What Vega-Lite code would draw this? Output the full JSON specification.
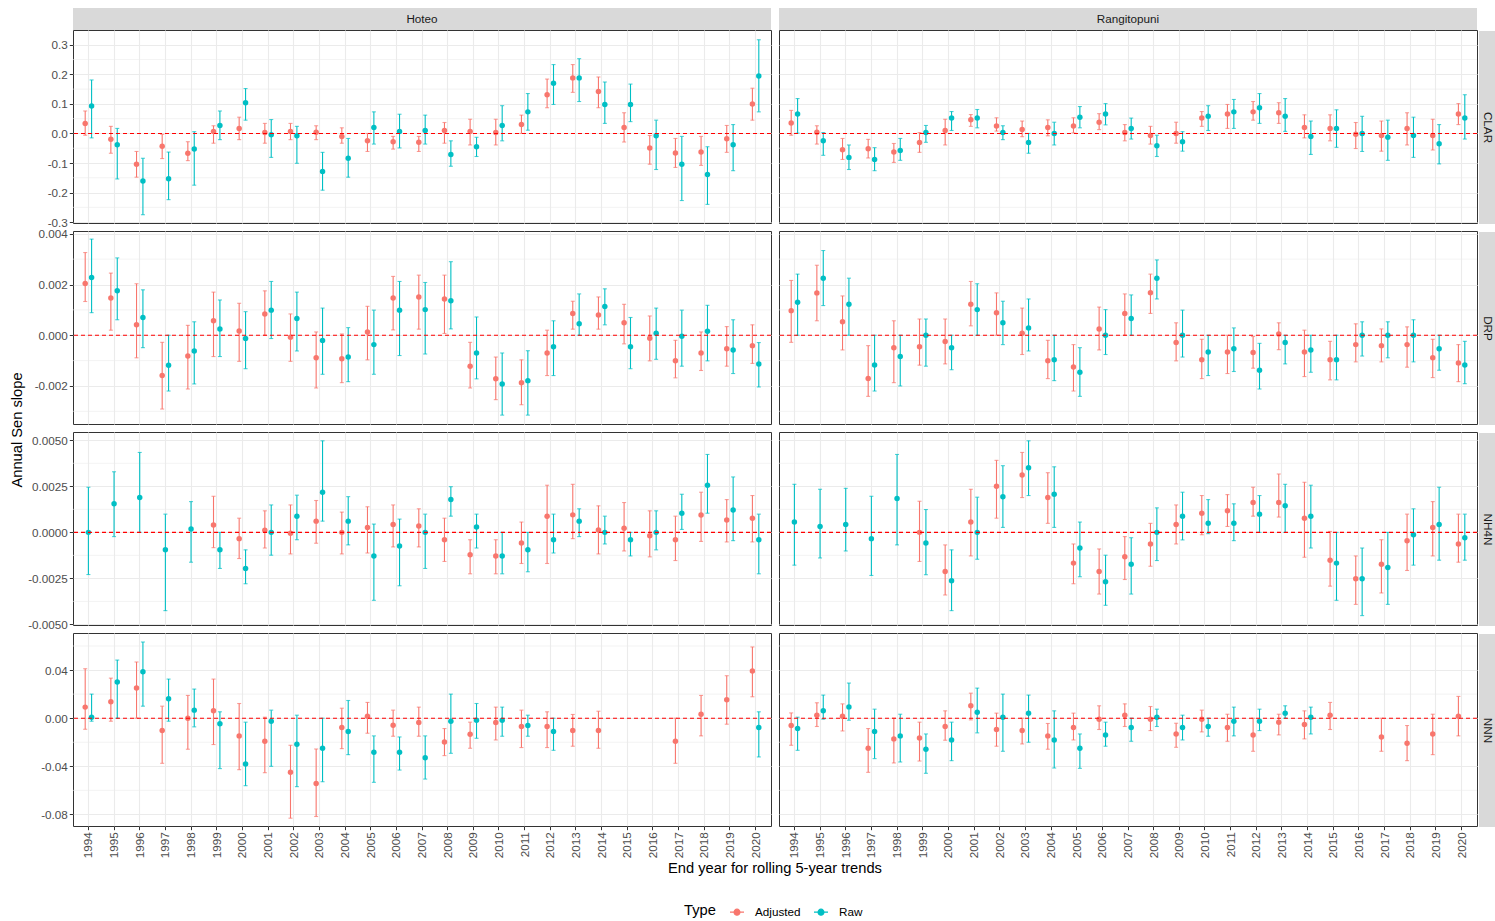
{
  "$schema": "https://vega.github.io/schema/vega-lite/v6.json",
  "autosize": {"type": "pad"},
  "padding": {"left": 9, "top": 8, "right": 0, "bottom": 0},
  "background": "#FFFFFF",
  "datasets": {
    "Hoteo_CLAR": [
      {"year":"1994","type":"Adjusted","slope":0.034,"lower":-0.006,"upper":0.076},{"year":"1994","type":"Raw","slope":0.093,"lower":-0.015,"upper":0.181},
      {"year":"1995","type":"Adjusted","slope":-0.020,"lower":-0.067,"upper":0.024},{"year":"1995","type":"Raw","slope":-0.038,"lower":-0.154,"upper":0.017},
      {"year":"1996","type":"Adjusted","slope":-0.104,"lower":-0.148,"upper":-0.061},{"year":"1996","type":"Raw","slope":-0.161,"lower":-0.275,"upper":-0.084},
      {"year":"1997","type":"Adjusted","slope":-0.043,"lower":-0.085,"upper":-0.003},{"year":"1997","type":"Raw","slope":-0.153,"lower":-0.224,"upper":-0.063},
      {"year":"1998","type":"Adjusted","slope":-0.067,"lower":-0.092,"upper":-0.028},{"year":"1998","type":"Raw","slope":-0.053,"lower":-0.175,"upper":0.006},
      {"year":"1999","type":"Adjusted","slope":0.007,"lower":-0.033,"upper":0.026},{"year":"1999","type":"Raw","slope":0.027,"lower":-0.021,"upper":0.076},
      {"year":"2000","type":"Adjusted","slope":0.017,"lower":-0.021,"upper":0.055},{"year":"2000","type":"Raw","slope":0.104,"lower":0.045,"upper":0.152},
      {"year":"2001","type":"Adjusted","slope":0.003,"lower":-0.033,"upper":0.034},{"year":"2001","type":"Raw","slope":-0.004,"lower":-0.081,"upper":0.047},
      {"year":"2002","type":"Adjusted","slope":0.007,"lower":-0.021,"upper":0.034},{"year":"2002","type":"Raw","slope":-0.008,"lower":-0.101,"upper":0.024},
      {"year":"2003","type":"Adjusted","slope":0.004,"lower":-0.021,"upper":0.026},{"year":"2003","type":"Raw","slope":-0.129,"lower":-0.192,"upper":-0.064},
      {"year":"2004","type":"Adjusted","slope":-0.010,"lower":-0.033,"upper":0.019},{"year":"2004","type":"Raw","slope":-0.084,"lower":-0.148,"upper":-0.017},
      {"year":"2005","type":"Adjusted","slope":-0.025,"lower":-0.061,"upper":0.000},{"year":"2005","type":"Raw","slope":0.020,"lower":-0.036,"upper":0.073},
      {"year":"2006","type":"Adjusted","slope":-0.028,"lower":-0.053,"upper":-0.010},{"year":"2006","type":"Raw","slope":0.007,"lower":-0.049,"upper":0.065},
      {"year":"2007","type":"Adjusted","slope":-0.030,"lower":-0.061,"upper":-0.010},{"year":"2007","type":"Raw","slope":0.010,"lower":-0.036,"upper":0.062},
      {"year":"2008","type":"Adjusted","slope":0.010,"lower":-0.033,"upper":0.037},{"year":"2008","type":"Raw","slope":-0.071,"lower":-0.111,"upper":-0.025},
      {"year":"2009","type":"Adjusted","slope":0.007,"lower":-0.039,"upper":0.048},{"year":"2009","type":"Raw","slope":-0.045,"lower":-0.078,"upper":-0.013},
      {"year":"2010","type":"Adjusted","slope":0.003,"lower":-0.039,"upper":0.048},{"year":"2010","type":"Raw","slope":0.027,"lower":-0.025,"upper":0.094},
      {"year":"2011","type":"Adjusted","slope":0.030,"lower":0.000,"upper":0.062},{"year":"2011","type":"Raw","slope":0.073,"lower":0.011,"upper":0.135},
      {"year":"2012","type":"Adjusted","slope":0.131,"lower":0.087,"upper":0.184},{"year":"2012","type":"Raw","slope":0.170,"lower":0.098,"upper":0.233},
      {"year":"2013","type":"Adjusted","slope":0.188,"lower":0.139,"upper":0.233},{"year":"2013","type":"Raw","slope":0.188,"lower":0.108,"upper":0.253},
      {"year":"2014","type":"Adjusted","slope":0.142,"lower":0.087,"upper":0.191},{"year":"2014","type":"Raw","slope":0.098,"lower":0.034,"upper":0.174},
      {"year":"2015","type":"Adjusted","slope":0.020,"lower":-0.029,"upper":0.070},{"year":"2015","type":"Raw","slope":0.098,"lower":0.040,"upper":0.167},
      {"year":"2016","type":"Adjusted","slope":-0.049,"lower":-0.104,"upper":-0.007},{"year":"2016","type":"Raw","slope":-0.008,"lower":-0.122,"upper":0.045},
      {"year":"2017","type":"Adjusted","slope":-0.066,"lower":-0.115,"upper":-0.017},{"year":"2017","type":"Raw","slope":-0.104,"lower":-0.227,"upper":-0.010},
      {"year":"2018","type":"Adjusted","slope":-0.063,"lower":-0.108,"upper":-0.010},{"year":"2018","type":"Raw","slope":-0.139,"lower":-0.240,"upper":-0.045},
      {"year":"2019","type":"Adjusted","slope":-0.018,"lower":-0.064,"upper":0.027},{"year":"2019","type":"Raw","slope":-0.038,"lower":-0.126,"upper":0.030},
      {"year":"2020","type":"Adjusted","slope":0.100,"lower":0.045,"upper":0.153},{"year":"2020","type":"Raw","slope":0.194,"lower":0.073,"upper":0.317}
    ],
    "Rangitopuni_CLAR": [
      {"year":"1994","type":"Adjusted","slope":0.035,"lower":-0.006,"upper":0.078},{"year":"1994","type":"Raw","slope":0.066,"lower":0.001,"upper":0.118},
      {"year":"1995","type":"Adjusted","slope":0.004,"lower":-0.036,"upper":0.026},{"year":"1995","type":"Raw","slope":-0.025,"lower":-0.074,"upper":0.003},
      {"year":"1996","type":"Adjusted","slope":-0.055,"lower":-0.088,"upper":-0.017},{"year":"1996","type":"Raw","slope":-0.081,"lower":-0.122,"upper":-0.039},
      {"year":"1997","type":"Adjusted","slope":-0.052,"lower":-0.083,"upper":-0.020},{"year":"1997","type":"Raw","slope":-0.088,"lower":-0.126,"upper":-0.048},
      {"year":"1998","type":"Adjusted","slope":-0.063,"lower":-0.098,"upper":-0.034},{"year":"1998","type":"Raw","slope":-0.058,"lower":-0.091,"upper":-0.017},
      {"year":"1999","type":"Adjusted","slope":-0.031,"lower":-0.064,"upper":0.003},{"year":"1999","type":"Raw","slope":0.003,"lower":-0.030,"upper":0.027},
      {"year":"2000","type":"Adjusted","slope":0.010,"lower":-0.039,"upper":0.048},{"year":"2000","type":"Raw","slope":0.052,"lower":0.010,"upper":0.074},
      {"year":"2001","type":"Adjusted","slope":0.046,"lower":0.024,"upper":0.064},{"year":"2001","type":"Raw","slope":0.052,"lower":0.019,"upper":0.081},
      {"year":"2002","type":"Adjusted","slope":0.025,"lower":0.008,"upper":0.053},{"year":"2002","type":"Raw","slope":0.003,"lower":-0.021,"upper":0.026},
      {"year":"2003","type":"Adjusted","slope":0.013,"lower":-0.011,"upper":0.042},{"year":"2003","type":"Raw","slope":-0.031,"lower":-0.067,"upper":0.000},
      {"year":"2004","type":"Adjusted","slope":0.020,"lower":-0.008,"upper":0.046},{"year":"2004","type":"Raw","slope":0.000,"lower":-0.039,"upper":0.038},
      {"year":"2005","type":"Adjusted","slope":0.025,"lower":0.002,"upper":0.053},{"year":"2005","type":"Raw","slope":0.055,"lower":0.019,"upper":0.091},
      {"year":"2006","type":"Adjusted","slope":0.038,"lower":0.013,"upper":0.067},{"year":"2006","type":"Raw","slope":0.066,"lower":0.029,"upper":0.101},
      {"year":"2007","type":"Adjusted","slope":0.003,"lower":-0.025,"upper":0.030},{"year":"2007","type":"Raw","slope":0.017,"lower":-0.019,"upper":0.052},
      {"year":"2008","type":"Adjusted","slope":-0.007,"lower":-0.036,"upper":0.024},{"year":"2008","type":"Raw","slope":-0.042,"lower":-0.078,"upper":-0.006},
      {"year":"2009","type":"Adjusted","slope":0.000,"lower":-0.033,"upper":0.038},{"year":"2009","type":"Raw","slope":-0.028,"lower":-0.060,"upper":0.006},
      {"year":"2010","type":"Adjusted","slope":0.052,"lower":0.024,"upper":0.074},{"year":"2010","type":"Raw","slope":0.058,"lower":0.010,"upper":0.094},
      {"year":"2011","type":"Adjusted","slope":0.066,"lower":0.017,"upper":0.098},{"year":"2011","type":"Raw","slope":0.073,"lower":0.017,"upper":0.115},
      {"year":"2012","type":"Adjusted","slope":0.073,"lower":0.045,"upper":0.108},{"year":"2012","type":"Raw","slope":0.087,"lower":0.034,"upper":0.135},
      {"year":"2013","type":"Adjusted","slope":0.070,"lower":0.034,"upper":0.104},{"year":"2013","type":"Raw","slope":0.058,"lower":0.007,"upper":0.118},
      {"year":"2014","type":"Adjusted","slope":0.020,"lower":-0.015,"upper":0.063},{"year":"2014","type":"Raw","slope":-0.010,"lower":-0.071,"upper":0.042},
      {"year":"2015","type":"Adjusted","slope":0.017,"lower":-0.025,"upper":0.063},{"year":"2015","type":"Raw","slope":0.017,"lower":-0.047,"upper":0.080},
      {"year":"2016","type":"Adjusted","slope":-0.003,"lower":-0.051,"upper":0.037},{"year":"2016","type":"Raw","slope":0.000,"lower":-0.061,"upper":0.058},
      {"year":"2017","type":"Adjusted","slope":-0.007,"lower":-0.060,"upper":0.042},{"year":"2017","type":"Raw","slope":-0.013,"lower":-0.091,"upper":0.045},
      {"year":"2018","type":"Adjusted","slope":0.017,"lower":-0.039,"upper":0.070},{"year":"2018","type":"Raw","slope":-0.007,"lower":-0.081,"upper":0.055},
      {"year":"2019","type":"Adjusted","slope":-0.007,"lower":-0.056,"upper":0.048},{"year":"2019","type":"Raw","slope":-0.035,"lower":-0.103,"upper":0.030},
      {"year":"2020","type":"Adjusted","slope":0.066,"lower":0.030,"upper":0.101},{"year":"2020","type":"Raw","slope":0.052,"lower":-0.019,"upper":0.131}
    ],
    "Hoteo_DRP": [
      {"year":"1994","type":"Adjusted","slope":0.00204,"lower":0.00133,"upper":0.00326},{"year":"1994","type":"Raw","slope":0.00228,"lower":0.00089,"upper":0.00379},
      {"year":"1995","type":"Adjusted","slope":0.00147,"lower":0.00020,"upper":0.00245},{"year":"1995","type":"Raw","slope":0.00175,"lower":0.00061,"upper":0.00305},
      {"year":"1996","type":"Adjusted","slope":0.00041,"lower":-0.00089,"upper":0.00203},{"year":"1996","type":"Raw","slope":0.00070,"lower":-0.00049,"upper":0.00179},
      {"year":"1997","type":"Adjusted","slope":-0.00159,"lower":-0.00291,"upper":-0.00028},{"year":"1997","type":"Raw","slope":-0.00118,"lower":-0.00220,"upper":0.00000},
      {"year":"1998","type":"Adjusted","slope":-0.00082,"lower":-0.00212,"upper":0.00039},{"year":"1998","type":"Raw","slope":-0.00062,"lower":-0.00192,"upper":0.00053},
      {"year":"1999","type":"Adjusted","slope":0.00057,"lower":-0.00084,"upper":0.00170},{"year":"1999","type":"Raw","slope":0.00025,"lower":-0.00084,"upper":0.00139},
      {"year":"2000","type":"Adjusted","slope":0.00017,"lower":-0.00103,"upper":0.00126},{"year":"2000","type":"Raw","slope":-0.00013,"lower":-0.00132,"upper":0.00093},
      {"year":"2001","type":"Adjusted","slope":0.00084,"lower":0.00000,"upper":0.00175},{"year":"2001","type":"Raw","slope":0.00099,"lower":-0.00013,"upper":0.00212},
      {"year":"2002","type":"Adjusted","slope":-0.00008,"lower":-0.00103,"upper":0.00084},{"year":"2002","type":"Raw","slope":0.00066,"lower":-0.00062,"upper":0.00170},
      {"year":"2003","type":"Adjusted","slope":-0.00089,"lower":-0.00208,"upper":0.00013},{"year":"2003","type":"Raw","slope":-0.00021,"lower":-0.00154,"upper":0.00107},
      {"year":"2004","type":"Adjusted","slope":-0.00093,"lower":-0.00187,"upper":0.00005},{"year":"2004","type":"Raw","slope":-0.00086,"lower":-0.00183,"upper":0.00030},
      {"year":"2005","type":"Adjusted","slope":0.00013,"lower":-0.00097,"upper":0.00114},{"year":"2005","type":"Raw","slope":-0.00037,"lower":-0.00154,"upper":0.00099},
      {"year":"2006","type":"Adjusted","slope":0.00147,"lower":0.00021,"upper":0.00232},{"year":"2006","type":"Raw","slope":0.00099,"lower":-0.00080,"upper":0.00212},
      {"year":"2007","type":"Adjusted","slope":0.00151,"lower":0.00024,"upper":0.00237},{"year":"2007","type":"Raw","slope":0.00101,"lower":-0.00074,"upper":0.00208},
      {"year":"2008","type":"Adjusted","slope":0.00143,"lower":0.00007,"upper":0.00237},{"year":"2008","type":"Raw","slope":0.00136,"lower":0.00025,"upper":0.00290},
      {"year":"2009","type":"Adjusted","slope":-0.00122,"lower":-0.00208,"upper":-0.00028},{"year":"2009","type":"Raw","slope":-0.00070,"lower":-0.00172,"upper":0.00072},
      {"year":"2010","type":"Adjusted","slope":-0.00172,"lower":-0.00254,"upper":-0.00086},{"year":"2010","type":"Raw","slope":-0.00192,"lower":-0.00315,"upper":-0.00070},
      {"year":"2011","type":"Adjusted","slope":-0.00187,"lower":-0.00274,"upper":-0.00097},{"year":"2011","type":"Raw","slope":-0.00179,"lower":-0.00315,"upper":-0.00061},
      {"year":"2012","type":"Adjusted","slope":-0.00070,"lower":-0.00159,"upper":0.00020},{"year":"2012","type":"Raw","slope":-0.00045,"lower":-0.00159,"upper":0.00057},
      {"year":"2013","type":"Adjusted","slope":0.00086,"lower":0.00024,"upper":0.00134},{"year":"2013","type":"Raw","slope":0.00045,"lower":0.00000,"upper":0.00163},
      {"year":"2014","type":"Adjusted","slope":0.00080,"lower":0.00024,"upper":0.00151},{"year":"2014","type":"Raw","slope":0.00113,"lower":0.00041,"upper":0.00183},
      {"year":"2015","type":"Adjusted","slope":0.00049,"lower":-0.00034,"upper":0.00122},{"year":"2015","type":"Raw","slope":-0.00045,"lower":-0.00132,"upper":0.00070},
      {"year":"2016","type":"Adjusted","slope":-0.00012,"lower":-0.00101,"upper":0.00076},{"year":"2016","type":"Raw","slope":0.00008,"lower":-0.00095,"upper":0.00107},
      {"year":"2017","type":"Adjusted","slope":-0.00101,"lower":-0.00168,"upper":-0.00020},{"year":"2017","type":"Raw","slope":-0.00004,"lower":-0.00122,"upper":0.00099},
      {"year":"2018","type":"Adjusted","slope":-0.00070,"lower":-0.00139,"upper":0.00013},{"year":"2018","type":"Raw","slope":0.00016,"lower":-0.00101,"upper":0.00118},
      {"year":"2019","type":"Adjusted","slope":-0.00053,"lower":-0.00122,"upper":0.00034},{"year":"2019","type":"Raw","slope":-0.00058,"lower":-0.00151,"upper":0.00061},
      {"year":"2020","type":"Adjusted","slope":-0.00041,"lower":-0.00111,"upper":0.00041},{"year":"2020","type":"Raw","slope":-0.00113,"lower":-0.00204,"upper":-0.00029}
    ],
    "Rangitopuni_DRP": [
      {"year":"1994","type":"Adjusted","slope":0.00097,"lower":-0.00028,"upper":0.00216},{"year":"1994","type":"Raw","slope":0.00130,"lower":0.00000,"upper":0.00241},
      {"year":"1995","type":"Adjusted","slope":0.00167,"lower":0.00057,"upper":0.00276},{"year":"1995","type":"Raw","slope":0.00225,"lower":0.00117,"upper":0.00334},
      {"year":"1996","type":"Adjusted","slope":0.00053,"lower":-0.00058,"upper":0.00155},{"year":"1996","type":"Raw","slope":0.00122,"lower":0.00000,"upper":0.00225},
      {"year":"1997","type":"Adjusted","slope":-0.00171,"lower":-0.00241,"upper":-0.00041},{"year":"1997","type":"Raw","slope":-0.00117,"lower":-0.00220,"upper":0.00000},
      {"year":"1998","type":"Adjusted","slope":-0.00049,"lower":-0.00187,"upper":0.00057},{"year":"1998","type":"Raw","slope":-0.00084,"lower":-0.00200,"upper":0.00000},
      {"year":"1999","type":"Adjusted","slope":-0.00045,"lower":-0.00118,"upper":0.00064},{"year":"1999","type":"Raw","slope":0.00000,"lower":-0.00122,"upper":0.00064},
      {"year":"2000","type":"Adjusted","slope":-0.00025,"lower":-0.00113,"upper":0.00064},{"year":"2000","type":"Raw","slope":-0.00049,"lower":-0.00136,"upper":0.00000},
      {"year":"2001","type":"Adjusted","slope":0.00122,"lower":0.00037,"upper":0.00212},{"year":"2001","type":"Raw","slope":0.00101,"lower":0.00000,"upper":0.00203},
      {"year":"2002","type":"Adjusted","slope":0.00089,"lower":0.00000,"upper":0.00167},{"year":"2002","type":"Raw","slope":0.00049,"lower":-0.00037,"upper":0.00134},
      {"year":"2003","type":"Adjusted","slope":0.00008,"lower":-0.00076,"upper":0.00107},{"year":"2003","type":"Raw","slope":0.00029,"lower":-0.00062,"upper":0.00143},
      {"year":"2004","type":"Adjusted","slope":-0.00101,"lower":-0.00171,"upper":-0.00020},{"year":"2004","type":"Raw","slope":-0.00097,"lower":-0.00179,"upper":0.00000},
      {"year":"2005","type":"Adjusted","slope":-0.00125,"lower":-0.00220,"upper":-0.00037},{"year":"2005","type":"Raw","slope":-0.00146,"lower":-0.00241,"upper":-0.00049},
      {"year":"2006","type":"Adjusted","slope":0.00025,"lower":-0.00058,"upper":0.00111},{"year":"2006","type":"Raw","slope":0.00000,"lower":-0.00076,"upper":0.00101},
      {"year":"2007","type":"Adjusted","slope":0.00086,"lower":0.00000,"upper":0.00163},{"year":"2007","type":"Raw","slope":0.00066,"lower":0.00000,"upper":0.00159},
      {"year":"2008","type":"Adjusted","slope":0.00168,"lower":0.00086,"upper":0.00241},{"year":"2008","type":"Raw","slope":0.00225,"lower":0.00143,"upper":0.00297},
      {"year":"2009","type":"Adjusted","slope":-0.00029,"lower":-0.00101,"upper":0.00049},{"year":"2009","type":"Raw","slope":0.00000,"lower":-0.00086,"upper":0.00099},
      {"year":"2010","type":"Adjusted","slope":-0.00097,"lower":-0.00171,"upper":-0.00016},{"year":"2010","type":"Raw","slope":-0.00066,"lower":-0.00159,"upper":0.00000},
      {"year":"2011","type":"Adjusted","slope":-0.00066,"lower":-0.00151,"upper":0.00000},{"year":"2011","type":"Raw","slope":-0.00053,"lower":-0.00143,"upper":0.00029},
      {"year":"2012","type":"Adjusted","slope":-0.00068,"lower":-0.00130,"upper":-0.00005},{"year":"2012","type":"Raw","slope":-0.00138,"lower":-0.00212,"upper":-0.00032},
      {"year":"2013","type":"Adjusted","slope":0.00005,"lower":-0.00057,"upper":0.00049},{"year":"2013","type":"Raw","slope":-0.00029,"lower":-0.00113,"upper":0.00000},
      {"year":"2014","type":"Adjusted","slope":-0.00066,"lower":-0.00163,"upper":0.00020},{"year":"2014","type":"Raw","slope":-0.00058,"lower":-0.00146,"upper":0.00000},
      {"year":"2015","type":"Adjusted","slope":-0.00097,"lower":-0.00176,"upper":-0.00024},{"year":"2015","type":"Raw","slope":-0.00097,"lower":-0.00176,"upper":0.00000},
      {"year":"2016","type":"Adjusted","slope":-0.00037,"lower":-0.00105,"upper":0.00045},{"year":"2016","type":"Raw","slope":0.00000,"lower":-0.00082,"upper":0.00053},
      {"year":"2017","type":"Adjusted","slope":-0.00041,"lower":-0.00105,"upper":0.00025},{"year":"2017","type":"Raw","slope":0.00000,"lower":-0.00089,"upper":0.00053},
      {"year":"2018","type":"Adjusted","slope":-0.00037,"lower":-0.00126,"upper":0.00033},{"year":"2018","type":"Raw","slope":0.00000,"lower":-0.00105,"upper":0.00061},
      {"year":"2019","type":"Adjusted","slope":-0.00089,"lower":-0.00167,"upper":-0.00016},{"year":"2019","type":"Raw","slope":-0.00053,"lower":-0.00138,"upper":0.00000},
      {"year":"2020","type":"Adjusted","slope":-0.00109,"lower":-0.00183,"upper":-0.00037},{"year":"2020","type":"Raw","slope":-0.00117,"lower":-0.00191,"upper":-0.00024}
    ],
    "Hoteo_NH4N": [
      {"year":"1994","type":"Raw","slope":0.00000,"lower":-0.00229,"upper":0.00245},
      {"year":"1995","type":"Raw","slope":0.00155,"lower":-0.00023,"upper":0.00329},
      {"year":"1996","type":"Raw","slope":0.00189,"lower":0.00000,"upper":0.00434},
      {"year":"1997","type":"Raw","slope":-0.00095,"lower":-0.00425,"upper":0.00099},
      {"year":"1998","type":"Raw","slope":0.00018,"lower":-0.00162,"upper":0.00167},
      {"year":"1999","type":"Adjusted","slope":0.00040,"lower":-0.00083,"upper":0.00196},{"year":"1999","type":"Raw","slope":-0.00094,"lower":-0.00196,"upper":0.00000},
      {"year":"2000","type":"Adjusted","slope":-0.00034,"lower":-0.00142,"upper":0.00077},{"year":"2000","type":"Raw","slope":-0.00196,"lower":-0.00279,"upper":-0.00095},
      {"year":"2001","type":"Adjusted","slope":0.00011,"lower":-0.00085,"upper":0.00117},{"year":"2001","type":"Raw","slope":0.00000,"lower":-0.00124,"upper":0.00149},
      {"year":"2002","type":"Adjusted","slope":-0.00005,"lower":-0.00117,"upper":0.00149},{"year":"2002","type":"Raw","slope":0.00088,"lower":-0.00040,"upper":0.00202},
      {"year":"2003","type":"Adjusted","slope":0.00061,"lower":-0.00059,"upper":0.00173},{"year":"2003","type":"Raw","slope":0.00218,"lower":0.00061,"upper":0.00497},
      {"year":"2004","type":"Adjusted","slope":0.00000,"lower":-0.00117,"upper":0.00110},{"year":"2004","type":"Raw","slope":0.00061,"lower":-0.00068,"upper":0.00194},
      {"year":"2005","type":"Adjusted","slope":0.00027,"lower":-0.00112,"upper":0.00139},{"year":"2005","type":"Raw","slope":-0.00128,"lower":-0.00369,"upper":0.00045},
      {"year":"2006","type":"Adjusted","slope":0.00043,"lower":-0.00079,"upper":0.00149},{"year":"2006","type":"Raw","slope":-0.00074,"lower":-0.00290,"upper":0.00072},
      {"year":"2007","type":"Adjusted","slope":0.00034,"lower":-0.00079,"upper":0.00128},{"year":"2007","type":"Raw","slope":0.00000,"lower":-0.00196,"upper":0.00099},
      {"year":"2008","type":"Adjusted","slope":-0.00040,"lower":-0.00158,"upper":0.00077},{"year":"2008","type":"Raw","slope":0.00178,"lower":0.00088,"upper":0.00248},
      {"year":"2009","type":"Adjusted","slope":-0.00122,"lower":-0.00225,"upper":-0.00040},{"year":"2009","type":"Raw","slope":0.00029,"lower":-0.00085,"upper":0.00099},
      {"year":"2010","type":"Adjusted","slope":-0.00128,"lower":-0.00225,"upper":-0.00040},{"year":"2010","type":"Raw","slope":-0.00128,"lower":-0.00225,"upper":0.00000},
      {"year":"2011","type":"Adjusted","slope":-0.00058,"lower":-0.00169,"upper":0.00056},{"year":"2011","type":"Raw","slope":-0.00095,"lower":-0.00214,"upper":0.00000},
      {"year":"2012","type":"Adjusted","slope":0.00088,"lower":-0.00169,"upper":0.00256},{"year":"2012","type":"Raw","slope":-0.00040,"lower":-0.00112,"upper":0.00099},
      {"year":"2013","type":"Adjusted","slope":0.00095,"lower":-0.00034,"upper":0.00261},{"year":"2013","type":"Raw","slope":0.00061,"lower":-0.00023,"upper":0.00128},
      {"year":"2014","type":"Adjusted","slope":0.00013,"lower":-0.00117,"upper":0.00144},{"year":"2014","type":"Raw","slope":0.00000,"lower":-0.00063,"upper":0.00088},
      {"year":"2015","type":"Adjusted","slope":0.00022,"lower":-0.00101,"upper":0.00162},{"year":"2015","type":"Raw","slope":-0.00040,"lower":-0.00128,"upper":0.00000},
      {"year":"2016","type":"Adjusted","slope":-0.00018,"lower":-0.00133,"upper":0.00117},{"year":"2016","type":"Raw","slope":0.00000,"lower":-0.00095,"upper":0.00117},
      {"year":"2017","type":"Adjusted","slope":-0.00040,"lower":-0.00153,"upper":0.00088},{"year":"2017","type":"Raw","slope":0.00104,"lower":0.00016,"upper":0.00207},
      {"year":"2018","type":"Adjusted","slope":0.00094,"lower":-0.00049,"upper":0.00218},{"year":"2018","type":"Raw","slope":0.00256,"lower":0.00104,"upper":0.00423},
      {"year":"2019","type":"Adjusted","slope":0.00067,"lower":-0.00052,"upper":0.00178},{"year":"2019","type":"Raw","slope":0.00122,"lower":-0.00045,"upper":0.00301},
      {"year":"2020","type":"Adjusted","slope":0.00077,"lower":-0.00052,"upper":0.00200},{"year":"2020","type":"Raw","slope":-0.00040,"lower":-0.00225,"upper":0.00099}
    ],
    "Rangitopuni_NH4N": [
      {"year":"1994","type":"Raw","slope":0.00056,"lower":-0.00178,"upper":0.00261},
      {"year":"1995","type":"Raw","slope":0.00032,"lower":-0.00139,"upper":0.00234},
      {"year":"1996","type":"Raw","slope":0.00043,"lower":-0.00101,"upper":0.00239},
      {"year":"1997","type":"Raw","slope":-0.00034,"lower":-0.00234,"upper":0.00196},
      {"year":"1998","type":"Raw","slope":0.00184,"lower":-0.00068,"upper":0.00423},
      {"year":"1999","type":"Adjusted","slope":0.00000,"lower":-0.00158,"upper":0.00169},{"year":"1999","type":"Raw","slope":-0.00058,"lower":-0.00230,"upper":0.00124},
      {"year":"2000","type":"Adjusted","slope":-0.00212,"lower":-0.00340,"upper":-0.00068},{"year":"2000","type":"Raw","slope":-0.00263,"lower":-0.00425,"upper":-0.00095},
      {"year":"2001","type":"Adjusted","slope":0.00056,"lower":-0.00128,"upper":0.00234},{"year":"2001","type":"Raw","slope":0.00000,"lower":-0.00146,"upper":0.00191},
      {"year":"2002","type":"Adjusted","slope":0.00250,"lower":0.00077,"upper":0.00391},{"year":"2002","type":"Raw","slope":0.00194,"lower":0.00027,"upper":0.00362},
      {"year":"2003","type":"Adjusted","slope":0.00311,"lower":0.00189,"upper":0.00434},{"year":"2003","type":"Raw","slope":0.00351,"lower":0.00200,"upper":0.00497},
      {"year":"2004","type":"Adjusted","slope":0.00189,"lower":0.00049,"upper":0.00324},{"year":"2004","type":"Raw","slope":0.00207,"lower":0.00027,"upper":0.00356},
      {"year":"2005","type":"Adjusted","slope":-0.00167,"lower":-0.00279,"upper":-0.00063},{"year":"2005","type":"Raw","slope":-0.00085,"lower":-0.00241,"upper":0.00056},
      {"year":"2006","type":"Adjusted","slope":-0.00212,"lower":-0.00335,"upper":-0.00090},{"year":"2006","type":"Raw","slope":-0.00268,"lower":-0.00396,"upper":-0.00124},
      {"year":"2007","type":"Adjusted","slope":-0.00133,"lower":-0.00256,"upper":-0.00023},{"year":"2007","type":"Raw","slope":-0.00173,"lower":-0.00335,"upper":-0.00029},
      {"year":"2008","type":"Adjusted","slope":-0.00063,"lower":-0.00184,"upper":0.00049},{"year":"2008","type":"Raw","slope":0.00000,"lower":-0.00153,"upper":0.00133},
      {"year":"2009","type":"Adjusted","slope":0.00043,"lower":-0.00063,"upper":0.00149},{"year":"2009","type":"Raw","slope":0.00088,"lower":-0.00041,"upper":0.00218},
      {"year":"2010","type":"Adjusted","slope":0.00104,"lower":-0.00013,"upper":0.00200},{"year":"2010","type":"Raw","slope":0.00050,"lower":-0.00007,"upper":0.00178},
      {"year":"2011","type":"Adjusted","slope":0.00117,"lower":0.00032,"upper":0.00205},{"year":"2011","type":"Raw","slope":0.00050,"lower":-0.00045,"upper":0.00155},
      {"year":"2012","type":"Adjusted","slope":0.00162,"lower":0.00088,"upper":0.00245},{"year":"2012","type":"Raw","slope":0.00099,"lower":0.00000,"upper":0.00200},
      {"year":"2013","type":"Adjusted","slope":0.00162,"lower":0.00083,"upper":0.00317},{"year":"2013","type":"Raw","slope":0.00144,"lower":0.00000,"upper":0.00261},
      {"year":"2014","type":"Adjusted","slope":0.00077,"lower":-0.00135,"upper":0.00272},{"year":"2014","type":"Raw","slope":0.00088,"lower":-0.00085,"upper":0.00256},
      {"year":"2015","type":"Adjusted","slope":-0.00151,"lower":-0.00292,"upper":0.00005},{"year":"2015","type":"Raw","slope":-0.00167,"lower":-0.00369,"upper":0.00000},
      {"year":"2016","type":"Adjusted","slope":-0.00252,"lower":-0.00391,"upper":-0.00128},{"year":"2016","type":"Raw","slope":-0.00252,"lower":-0.00452,"upper":-0.00085},
      {"year":"2017","type":"Adjusted","slope":-0.00173,"lower":-0.00329,"upper":-0.00040},{"year":"2017","type":"Raw","slope":-0.00191,"lower":-0.00391,"upper":0.00000},
      {"year":"2018","type":"Adjusted","slope":-0.00045,"lower":-0.00207,"upper":0.00099},{"year":"2018","type":"Raw","slope":-0.00013,"lower":-0.00178,"upper":0.00128},
      {"year":"2019","type":"Adjusted","slope":0.00027,"lower":-0.00128,"upper":0.00167},{"year":"2019","type":"Raw","slope":0.00043,"lower":-0.00151,"upper":0.00245},
      {"year":"2020","type":"Adjusted","slope":-0.00063,"lower":-0.00162,"upper":0.00099},{"year":"2020","type":"Raw","slope":-0.00029,"lower":-0.00151,"upper":0.00099}
    ],
    "Hoteo_NNN": [
      {"year":"1994","type":"Adjusted","slope":0.0092,"lower":-0.0092,"upper":0.0411},{"year":"1994","type":"Raw","slope":0.0008,"lower":-0.0025,"upper":0.0200},
      {"year":"1995","type":"Adjusted","slope":0.0136,"lower":-0.0025,"upper":0.0333},{"year":"1995","type":"Raw","slope":0.0300,"lower":0.0000,"upper":0.0483},
      {"year":"1996","type":"Adjusted","slope":0.0250,"lower":0.0000,"upper":0.0467},{"year":"1996","type":"Raw","slope":0.0386,"lower":0.0100,"upper":0.0633},
      {"year":"1997","type":"Adjusted","slope":-0.0103,"lower":-0.0375,"upper":0.0100},{"year":"1997","type":"Raw","slope":0.0161,"lower":-0.0025,"upper":0.0325},
      {"year":"1998","type":"Adjusted","slope":0.0000,"lower":-0.0258,"upper":0.0189},{"year":"1998","type":"Raw","slope":0.0067,"lower":-0.0072,"upper":0.0242},
      {"year":"1999","type":"Adjusted","slope":0.0061,"lower":-0.0219,"upper":0.0325},{"year":"1999","type":"Raw","slope":-0.0047,"lower":-0.0419,"upper":0.0053},
      {"year":"2000","type":"Adjusted","slope":-0.0147,"lower":-0.0428,"upper":0.0122},{"year":"2000","type":"Raw","slope":-0.0381,"lower":-0.0561,"upper":-0.0033},
      {"year":"2001","type":"Adjusted","slope":-0.0192,"lower":-0.0453,"upper":0.0008},{"year":"2001","type":"Raw","slope":-0.0025,"lower":-0.0400,"upper":0.0067},
      {"year":"2002","type":"Adjusted","slope":-0.0450,"lower":-0.0831,"upper":-0.0225},{"year":"2002","type":"Raw","slope":-0.0217,"lower":-0.0569,"upper":0.0025},
      {"year":"2003","type":"Adjusted","slope":-0.0542,"lower":-0.0817,"upper":-0.0256},{"year":"2003","type":"Raw","slope":-0.0250,"lower":-0.0528,"upper":0.0000},
      {"year":"2004","type":"Adjusted","slope":-0.0078,"lower":-0.0253,"upper":0.0083},{"year":"2004","type":"Raw","slope":-0.0111,"lower":-0.0303,"upper":0.0147},
      {"year":"2005","type":"Adjusted","slope":0.0017,"lower":-0.0125,"upper":0.0131},{"year":"2005","type":"Raw","slope":-0.0283,"lower":-0.0533,"upper":-0.0147},
      {"year":"2006","type":"Adjusted","slope":-0.0058,"lower":-0.0150,"upper":0.0067},{"year":"2006","type":"Raw","slope":-0.0283,"lower":-0.0431,"upper":-0.0156},
      {"year":"2007","type":"Adjusted","slope":-0.0036,"lower":-0.0150,"upper":0.0092},{"year":"2007","type":"Raw","slope":-0.0328,"lower":-0.0506,"upper":-0.0147},
      {"year":"2008","type":"Adjusted","slope":-0.0197,"lower":-0.0311,"upper":-0.0086},{"year":"2008","type":"Raw","slope":-0.0025,"lower":-0.0292,"upper":0.0200},
      {"year":"2009","type":"Adjusted","slope":-0.0133,"lower":-0.0250,"upper":-0.0033},{"year":"2009","type":"Raw","slope":-0.0017,"lower":-0.0167,"upper":0.0122},
      {"year":"2010","type":"Adjusted","slope":-0.0036,"lower":-0.0181,"upper":0.0092},{"year":"2010","type":"Raw","slope":-0.0017,"lower":-0.0150,"upper":0.0092},
      {"year":"2011","type":"Adjusted","slope":-0.0069,"lower":-0.0244,"upper":0.0067},{"year":"2011","type":"Raw","slope":-0.0061,"lower":-0.0150,"upper":0.0025},
      {"year":"2012","type":"Adjusted","slope":-0.0069,"lower":-0.0244,"upper":0.0053},{"year":"2012","type":"Raw","slope":-0.0111,"lower":-0.0267,"upper":0.0000},
      {"year":"2013","type":"Adjusted","slope":-0.0103,"lower":-0.0233,"upper":0.0031},{"year":"2013","type":"Raw","slope":null,"lower":null,"upper":null},
      {"year":"2014","type":"Adjusted","slope":-0.0103,"lower":-0.0250,"upper":0.0058},{"year":"2014","type":"Raw","slope":null,"lower":null,"upper":null},
      {"year":"2017","type":"Adjusted","slope":-0.0192,"lower":-0.0375,"upper":0.0000},{"year":"2017","type":"Raw","slope":null,"lower":null,"upper":null},
      {"year":"2018","type":"Adjusted","slope":0.0033,"lower":-0.0147,"upper":0.0189},{"year":"2018","type":"Raw","slope":null,"lower":null,"upper":null},
      {"year":"2019","type":"Adjusted","slope":0.0153,"lower":-0.0050,"upper":0.0353},{"year":"2019","type":"Raw","slope":null,"lower":null,"upper":null},
      {"year":"2020","type":"Adjusted","slope":0.0392,"lower":0.0178,"upper":0.0592},{"year":"2020","type":"Raw","slope":-0.0078,"lower":-0.0322,"upper":0.0053}
    ],
    "Rangitopuni_NNN": [
      {"year":"1994","type":"Adjusted","slope":-0.0061,"lower":-0.0225,"upper":0.0044},{"year":"1994","type":"Raw","slope":-0.0086,"lower":-0.0267,"upper":0.0008},
      {"year":"1995","type":"Adjusted","slope":0.0025,"lower":-0.0069,"upper":0.0128},{"year":"1995","type":"Raw","slope":0.0061,"lower":-0.0008,"upper":0.0192},
      {"year":"1996","type":"Adjusted","slope":0.0017,"lower":-0.0106,"upper":0.0119},{"year":"1996","type":"Raw","slope":0.0094,"lower":-0.0017,"upper":0.0292},
      {"year":"1997","type":"Adjusted","slope":-0.0250,"lower":-0.0450,"upper":-0.0086},{"year":"1997","type":"Raw","slope":-0.0111,"lower":-0.0336,"upper":0.0075},
      {"year":"1998","type":"Adjusted","slope":-0.0172,"lower":-0.0372,"upper":0.0000},{"year":"1998","type":"Raw","slope":-0.0147,"lower":-0.0364,"upper":0.0033},
      {"year":"1999","type":"Adjusted","slope":-0.0164,"lower":-0.0356,"upper":-0.0033},{"year":"1999","type":"Raw","slope":-0.0258,"lower":-0.0458,"upper":-0.0131},
      {"year":"2000","type":"Adjusted","slope":-0.0069,"lower":-0.0183,"upper":0.0061},{"year":"2000","type":"Raw","slope":-0.0181,"lower":-0.0353,"upper":-0.0033},
      {"year":"2001","type":"Adjusted","slope":0.0103,"lower":-0.0014,"upper":0.0208},{"year":"2001","type":"Raw","slope":0.0050,"lower":-0.0122,"upper":0.0250},
      {"year":"2002","type":"Adjusted","slope":-0.0094,"lower":-0.0233,"upper":0.0042},{"year":"2002","type":"Raw","slope":0.0008,"lower":-0.0275,"upper":0.0200},
      {"year":"2003","type":"Adjusted","slope":-0.0103,"lower":-0.0214,"upper":0.0000},{"year":"2003","type":"Raw","slope":0.0042,"lower":-0.0200,"upper":0.0192},
      {"year":"2004","type":"Adjusted","slope":-0.0147,"lower":-0.0258,"upper":-0.0044},{"year":"2004","type":"Raw","slope":-0.0181,"lower":-0.0414,"upper":0.0061},
      {"year":"2005","type":"Adjusted","slope":-0.0078,"lower":-0.0181,"upper":0.0042},{"year":"2005","type":"Raw","slope":-0.0250,"lower":-0.0417,"upper":-0.0131},
      {"year":"2006","type":"Adjusted","slope":-0.0008,"lower":-0.0094,"upper":0.0103},{"year":"2006","type":"Raw","slope":-0.0139,"lower":-0.0233,"upper":-0.0033},
      {"year":"2007","type":"Adjusted","slope":0.0025,"lower":-0.0069,"upper":0.0119},{"year":"2007","type":"Raw","slope":-0.0078,"lower":-0.0192,"upper":0.0000},
      {"year":"2008","type":"Adjusted","slope":-0.0008,"lower":-0.0103,"upper":0.0097},{"year":"2008","type":"Raw","slope":0.0008,"lower":-0.0069,"upper":0.0075},
      {"year":"2009","type":"Adjusted","slope":-0.0131,"lower":-0.0242,"upper":-0.0042},{"year":"2009","type":"Raw","slope":-0.0078,"lower":-0.0181,"upper":0.0025},
      {"year":"2010","type":"Adjusted","slope":-0.0008,"lower":-0.0114,"upper":0.0067},{"year":"2010","type":"Raw","slope":-0.0069,"lower":-0.0150,"upper":0.0000},
      {"year":"2011","type":"Adjusted","slope":-0.0078,"lower":-0.0192,"upper":0.0033},{"year":"2011","type":"Raw","slope":-0.0025,"lower":-0.0147,"upper":0.0092},
      {"year":"2012","type":"Adjusted","slope":-0.0139,"lower":-0.0275,"upper":0.0000},{"year":"2012","type":"Raw","slope":-0.0025,"lower":-0.0103,"upper":0.0075},
      {"year":"2013","type":"Adjusted","slope":-0.0033,"lower":-0.0139,"upper":0.0033},{"year":"2013","type":"Raw","slope":0.0042,"lower":0.0000,"upper":0.0103},
      {"year":"2014","type":"Adjusted","slope":-0.0053,"lower":-0.0172,"upper":0.0061},{"year":"2014","type":"Raw","slope":0.0008,"lower":-0.0131,"upper":0.0092},
      {"year":"2015","type":"Adjusted","slope":0.0025,"lower":-0.0094,"upper":0.0131},{"year":"2015","type":"Raw","slope":null,"lower":null,"upper":null},
      {"year":"2017","type":"Adjusted","slope":-0.0156,"lower":-0.0275,"upper":0.0000},{"year":"2017","type":"Raw","slope":null,"lower":null,"upper":null},
      {"year":"2018","type":"Adjusted","slope":-0.0208,"lower":-0.0353,"upper":-0.0061},{"year":"2018","type":"Raw","slope":null,"lower":null,"upper":null},
      {"year":"2019","type":"Adjusted","slope":-0.0131,"lower":-0.0303,"upper":0.0033},{"year":"2019","type":"Raw","slope":null,"lower":null,"upper":null},
      {"year":"2020","type":"Adjusted","slope":0.0017,"lower":-0.0147,"upper":0.0181},{"year":"2020","type":"Raw","slope":null,"lower":null,"upper":null}
    ]
  },
  "hconcat": [
    {
      "width": 15, "height": 844,
      "view": {"stroke": null},
      "data": {"values": [{"label": "Annual Sen slope"}]},
      "mark": {"type": "text", "angle": 270, "fontSize": 14.7, "color": "#000000"},
      "encoding": {"text": {"field": "label"}}
    },
    {
      "spacing": 0,
      "vconcat": [
        {
          "spacing": 4,
          "hconcat": [
            {
              "spacing": -1,
              "vconcat": [
                {"width": 698, "height": 22, "view": {"fill": "#D9D9D9"}, "data": {"values": [{"label": "Hoteo"}]}, "mark": {"type": "text", "fontSize": 11.7, "color": "#1A1A1A"}, "encoding": {"text": {"field": "label"}}},
                {
                  "bounds": "flush",
                  "spacing": 8,
                  "vconcat": [
                    {
                      "width": 698, "height": 193,
                      "data": {"name": "Hoteo_CLAR"},
                      "transform": [{"joinaggregate": [{"op": "count", "as": "n"}], "groupby": ["year"]}, {"calculate": "datum.n == 1 ? 'Single' : datum.type", "as": "slot"}],
                      "layer": [
                        {"data": {"values": [{"minor": -0.25}, {"minor": -0.15}, {"minor": -0.05}, {"minor": 0.05}, {"minor": 0.15}, {"minor": 0.25}]}, "mark": {"type": "rule", "color": "#EBEBEB", "strokeWidth": 0.6},
                         "encoding": {"y": {"field": "minor", "type": "quantitative", "scale": {"domain": [-0.303, 0.35], "nice": false, "zero": false}, "axis": {"title": null, "values": [-0.3, -0.2, -0.1, 0, 0.1, 0.2, 0.3], "format": ".1f", "labelExpr": "replace(datum.label, '\u2212', '-')", "gridWidth": 1.1}}}},
                        {"encoding": {
                           "x": {"field": "year", "type": "ordinal", "scale": {"domain": ["1994","1995","1996","1997","1998","1999","2000","2001","2002","2003","2004","2005","2006","2007","2008","2009","2010","2011","2012","2013","2014","2015","2016","2017","2018","2019","2020"], "paddingInner": 0.626, "paddingOuter": 0.413},
                                 "axis": {"title": null, "labels": false, "ticks": false, "grid": true, "gridWidth": 1.1, "bandPosition": 0.5}},
                           "xOffset": {"field": "slot", "type": "nominal", "scale": {"domain": ["Adjusted", "Single", "Raw"], "paddingInner": 0, "paddingOuter": 0}},
                           "color": {"field": "type", "type": "nominal", "legend": {"title": "Type", "orient": "none", "legendX": 674, "legendY": 896, "direction": "horizontal", "encode": {"symbols": {"update": {"fill": {"scale": "color", "field": "value"}, "stroke": {"scale": "color", "field": "value"}, "opacity": {"value": 1}}}}}}},
                         "layer": [
                           {"mark": {"type": "rule", "strokeWidth": 1.1}, "encoding": {"y": {"field": "lower", "type": "quantitative", "scale": {"domain": [-0.303, 0.35], "nice": false, "zero": false}, "axis": {"title": null, "values": [-0.3, -0.2, -0.1, 0, 0.1, 0.2, 0.3], "format": ".1f", "labelExpr": "replace(datum.label, '\u2212', '-')", "gridWidth": 1.1}}, "y2": {"field": "upper"}}},
                           {"mark": {"type": "tick", "size": 4, "thickness": 1.1}, "encoding": {"y": {"field": "lower", "type": "quantitative", "scale": {"domain": [-0.303, 0.35], "nice": false, "zero": false}, "axis": {"title": null, "values": [-0.3, -0.2, -0.1, 0, 0.1, 0.2, 0.3], "format": ".1f", "labelExpr": "replace(datum.label, '\u2212', '-')", "gridWidth": 1.1}}}},
                           {"mark": {"type": "tick", "size": 4, "thickness": 1.1}, "encoding": {"y": {"field": "upper", "type": "quantitative", "scale": {"domain": [-0.303, 0.35], "nice": false, "zero": false}, "axis": {"title": null, "values": [-0.3, -0.2, -0.1, 0, 0.1, 0.2, 0.3], "format": ".1f", "labelExpr": "replace(datum.label, '\u2212', '-')", "gridWidth": 1.1}}}},
                           {"mark": {"type": "point", "filled": true, "size": 30, "opacity": 1, "strokeWidth": 0}, "encoding": {"y": {"field": "slope", "type": "quantitative", "scale": {"domain": [-0.303, 0.35], "nice": false, "zero": false}, "axis": {"title": null, "values": [-0.3, -0.2, -0.1, 0, 0.1, 0.2, 0.3], "format": ".1f", "labelExpr": "replace(datum.label, '\u2212', '-')", "gridWidth": 1.1}}}}
                         ]},
                        {"data": {"values": [{}]}, "mark": {"type": "rule", "color": "#FF0000", "strokeDash": [4, 3], "strokeWidth": 1.1},
                         "encoding": {"y": {"datum": 0, "type": "quantitative", "scale": {"domain": [-0.303, 0.35], "nice": false, "zero": false}, "axis": {"title": null, "values": [-0.3, -0.2, -0.1, 0, 0.1, 0.2, 0.3], "format": ".1f", "labelExpr": "replace(datum.label, '\u2212', '-')", "gridWidth": 1.1}}}}
                      ]
                    },
                    {
                      "width": 698, "height": 193,
                      "data": {"name": "Hoteo_DRP"},
                      "transform": [{"joinaggregate": [{"op": "count", "as": "n"}], "groupby": ["year"]}, {"calculate": "datum.n == 1 ? 'Single' : datum.type", "as": "slot"}],
                      "layer": [
                        {"data": {"values": [{"minor": -0.003}, {"minor": -0.001}, {"minor": 0.001}, {"minor": 0.003}]}, "mark": {"type": "rule", "color": "#EBEBEB", "strokeWidth": 0.6},
                         "encoding": {"y": {"field": "minor", "type": "quantitative", "scale": {"domain": [-0.0035, 0.00411], "nice": false, "zero": false}, "axis": {"title": null, "values": [-0.002, 0, 0.002, 0.004], "format": ".3f", "labelExpr": "replace(datum.label, '\u2212', '-')", "gridWidth": 1.1}}}},
                        {"encoding": {
                           "x": {"field": "year", "type": "ordinal", "scale": {"domain": ["1994","1995","1996","1997","1998","1999","2000","2001","2002","2003","2004","2005","2006","2007","2008","2009","2010","2011","2012","2013","2014","2015","2016","2017","2018","2019","2020"], "paddingInner": 0.626, "paddingOuter": 0.413},
                                 "axis": {"title": null, "labels": false, "ticks": false, "grid": true, "gridWidth": 1.1, "bandPosition": 0.5}},
                           "xOffset": {"field": "slot", "type": "nominal", "scale": {"domain": ["Adjusted", "Single", "Raw"], "paddingInner": 0, "paddingOuter": 0}},
                           "color": {"field": "type", "type": "nominal", "legend": null}},
                         "layer": [
                           {"mark": {"type": "rule", "strokeWidth": 1.1}, "encoding": {"y": {"field": "lower", "type": "quantitative", "scale": {"domain": [-0.0035, 0.00411], "nice": false, "zero": false}, "axis": {"title": null, "values": [-0.002, 0, 0.002, 0.004], "format": ".3f", "labelExpr": "replace(datum.label, '\u2212', '-')", "gridWidth": 1.1}}, "y2": {"field": "upper"}}},
                           {"mark": {"type": "tick", "size": 4, "thickness": 1.1}, "encoding": {"y": {"field": "lower", "type": "quantitative", "scale": {"domain": [-0.0035, 0.00411], "nice": false, "zero": false}, "axis": {"title": null, "values": [-0.002, 0, 0.002, 0.004], "format": ".3f", "labelExpr": "replace(datum.label, '\u2212', '-')", "gridWidth": 1.1}}}},
                           {"mark": {"type": "tick", "size": 4, "thickness": 1.1}, "encoding": {"y": {"field": "upper", "type": "quantitative", "scale": {"domain": [-0.0035, 0.00411], "nice": false, "zero": false}, "axis": {"title": null, "values": [-0.002, 0, 0.002, 0.004], "format": ".3f", "labelExpr": "replace(datum.label, '\u2212', '-')", "gridWidth": 1.1}}}},
                           {"mark": {"type": "point", "filled": true, "size": 30, "opacity": 1, "strokeWidth": 0}, "encoding": {"y": {"field": "slope", "type": "quantitative", "scale": {"domain": [-0.0035, 0.00411], "nice": false, "zero": false}, "axis": {"title": null, "values": [-0.002, 0, 0.002, 0.004], "format": ".3f", "labelExpr": "replace(datum.label, '\u2212', '-')", "gridWidth": 1.1}}}}
                         ]},
                        {"data": {"values": [{}]}, "mark": {"type": "rule", "color": "#FF0000", "strokeDash": [4, 3], "strokeWidth": 1.1},
                         "encoding": {"y": {"datum": 0, "type": "quantitative", "scale": {"domain": [-0.0035, 0.00411], "nice": false, "zero": false}, "axis": {"title": null, "values": [-0.002, 0, 0.002, 0.004], "format": ".3f", "labelExpr": "replace(datum.label, '\u2212', '-')", "gridWidth": 1.1}}}}
                      ]
                    },
                    {
                      "width": 698, "height": 193,
                      "data": {"name": "Hoteo_NH4N"},
                      "transform": [{"joinaggregate": [{"op": "count", "as": "n"}], "groupby": ["year"]}, {"calculate": "datum.n == 1 ? 'Single' : datum.type", "as": "slot"}],
                      "layer": [
                        {"data": {"values": [{"minor": -0.00375}, {"minor": -0.00125}, {"minor": 0.00125}, {"minor": 0.00375}]}, "mark": {"type": "rule", "color": "#EBEBEB", "strokeWidth": 0.6},
                         "encoding": {"y": {"field": "minor", "type": "quantitative", "scale": {"domain": [-0.00503, 0.00545], "nice": false, "zero": false}, "axis": {"title": null, "values": [-0.005, -0.0025, 0, 0.0025, 0.005], "format": ".4f", "labelExpr": "replace(datum.label, '\u2212', '-')", "gridWidth": 1.1}}}},
                        {"encoding": {
                           "x": {"field": "year", "type": "ordinal", "scale": {"domain": ["1994","1995","1996","1997","1998","1999","2000","2001","2002","2003","2004","2005","2006","2007","2008","2009","2010","2011","2012","2013","2014","2015","2016","2017","2018","2019","2020"], "paddingInner": 0.626, "paddingOuter": 0.413},
                                 "axis": {"title": null, "labels": false, "ticks": false, "grid": true, "gridWidth": 1.1, "bandPosition": 0.5}},
                           "xOffset": {"field": "slot", "type": "nominal", "scale": {"domain": ["Adjusted", "Single", "Raw"], "paddingInner": 0, "paddingOuter": 0}},
                           "color": {"field": "type", "type": "nominal", "legend": null}},
                         "layer": [
                           {"mark": {"type": "rule", "strokeWidth": 1.1}, "encoding": {"y": {"field": "lower", "type": "quantitative", "scale": {"domain": [-0.00503, 0.00545], "nice": false, "zero": false}, "axis": {"title": null, "values": [-0.005, -0.0025, 0, 0.0025, 0.005], "format": ".4f", "labelExpr": "replace(datum.label, '\u2212', '-')", "gridWidth": 1.1}}, "y2": {"field": "upper"}}},
                           {"mark": {"type": "tick", "size": 4, "thickness": 1.1}, "encoding": {"y": {"field": "lower", "type": "quantitative", "scale": {"domain": [-0.00503, 0.00545], "nice": false, "zero": false}, "axis": {"title": null, "values": [-0.005, -0.0025, 0, 0.0025, 0.005], "format": ".4f", "labelExpr": "replace(datum.label, '\u2212', '-')", "gridWidth": 1.1}}}},
                           {"mark": {"type": "tick", "size": 4, "thickness": 1.1}, "encoding": {"y": {"field": "upper", "type": "quantitative", "scale": {"domain": [-0.00503, 0.00545], "nice": false, "zero": false}, "axis": {"title": null, "values": [-0.005, -0.0025, 0, 0.0025, 0.005], "format": ".4f", "labelExpr": "replace(datum.label, '\u2212', '-')", "gridWidth": 1.1}}}},
                           {"mark": {"type": "point", "filled": true, "size": 30, "opacity": 1, "strokeWidth": 0}, "encoding": {"y": {"field": "slope", "type": "quantitative", "scale": {"domain": [-0.00503, 0.00545], "nice": false, "zero": false}, "axis": {"title": null, "values": [-0.005, -0.0025, 0, 0.0025, 0.005], "format": ".4f", "labelExpr": "replace(datum.label, '\u2212', '-')", "gridWidth": 1.1}}}}
                         ]},
                        {"data": {"values": [{}]}, "mark": {"type": "rule", "color": "#FF0000", "strokeDash": [4, 3], "strokeWidth": 1.1},
                         "encoding": {"y": {"datum": 0, "type": "quantitative", "scale": {"domain": [-0.00503, 0.00545], "nice": false, "zero": false}, "axis": {"title": null, "values": [-0.005, -0.0025, 0, 0.0025, 0.005], "format": ".4f", "labelExpr": "replace(datum.label, '\u2212', '-')", "gridWidth": 1.1}}}}
                      ]
                    },
                    {
                      "width": 698, "height": 193,
                      "data": {"name": "Hoteo_NNN"},
                      "transform": [{"joinaggregate": [{"op": "count", "as": "n"}], "groupby": ["year"]}, {"calculate": "datum.n == 1 ? 'Single' : datum.type", "as": "slot"}],
                      "layer": [
                        {"data": {"values": [{"minor": -0.06}, {"minor": -0.02}, {"minor": 0.02}, {"minor": 0.06}]}, "mark": {"type": "rule", "color": "#EBEBEB", "strokeWidth": 0.6},
                         "encoding": {"y": {"field": "minor", "type": "quantitative", "scale": {"domain": [-0.0896, 0.0708], "nice": false, "zero": false}, "axis": {"title": null, "values": [-0.08, -0.04, 0, 0.04], "format": ".2f", "labelExpr": "replace(datum.label, '\u2212', '-')", "gridWidth": 1.1}}}},
                        {"encoding": {
                           "x": {"field": "year", "type": "ordinal", "scale": {"domain": ["1994","1995","1996","1997","1998","1999","2000","2001","2002","2003","2004","2005","2006","2007","2008","2009","2010","2011","2012","2013","2014","2015","2016","2017","2018","2019","2020"], "paddingInner": 0.626, "paddingOuter": 0.413},
                                 "axis": {"title": null, "labelAngle": 270, "grid": true, "gridWidth": 1.1, "bandPosition": 0.5}},
                           "xOffset": {"field": "slot", "type": "nominal", "scale": {"domain": ["Adjusted", "Single", "Raw"], "paddingInner": 0, "paddingOuter": 0}},
                           "color": {"field": "type", "type": "nominal", "legend": null}},
                         "layer": [
                           {"mark": {"type": "rule", "strokeWidth": 1.1}, "encoding": {"y": {"field": "lower", "type": "quantitative", "scale": {"domain": [-0.0896, 0.0708], "nice": false, "zero": false}, "axis": {"title": null, "values": [-0.08, -0.04, 0, 0.04], "format": ".2f", "labelExpr": "replace(datum.label, '\u2212', '-')", "gridWidth": 1.1}}, "y2": {"field": "upper"}}},
                           {"mark": {"type": "tick", "size": 4, "thickness": 1.1}, "encoding": {"y": {"field": "lower", "type": "quantitative", "scale": {"domain": [-0.0896, 0.0708], "nice": false, "zero": false}, "axis": {"title": null, "values": [-0.08, -0.04, 0, 0.04], "format": ".2f", "labelExpr": "replace(datum.label, '\u2212', '-')", "gridWidth": 1.1}}}},
                           {"mark": {"type": "tick", "size": 4, "thickness": 1.1}, "encoding": {"y": {"field": "upper", "type": "quantitative", "scale": {"domain": [-0.0896, 0.0708], "nice": false, "zero": false}, "axis": {"title": null, "values": [-0.08, -0.04, 0, 0.04], "format": ".2f", "labelExpr": "replace(datum.label, '\u2212', '-')", "gridWidth": 1.1}}}},
                           {"mark": {"type": "point", "filled": true, "size": 30, "opacity": 1, "strokeWidth": 0}, "encoding": {"y": {"field": "slope", "type": "quantitative", "scale": {"domain": [-0.0896, 0.0708], "nice": false, "zero": false}, "axis": {"title": null, "values": [-0.08, -0.04, 0, 0.04], "format": ".2f", "labelExpr": "replace(datum.label, '\u2212', '-')", "gridWidth": 1.1}}}}
                         ]},
                        {"data": {"values": [{}]}, "mark": {"type": "rule", "color": "#FF0000", "strokeDash": [4, 3], "strokeWidth": 1.1},
                         "encoding": {"y": {"datum": 0, "type": "quantitative", "scale": {"domain": [-0.0896, 0.0708], "nice": false, "zero": false}, "axis": {"title": null, "values": [-0.08, -0.04, 0, 0.04], "format": ".2f", "labelExpr": "replace(datum.label, '\u2212', '-')", "gridWidth": 1.1}}}}
                      ]
                    }
                  ]
                }
              ]
            },
            {
              "spacing": -2,
              "hconcat": [
                {
                  "spacing": -1,
                  "vconcat": [
                    {"width": 698, "height": 22, "view": {"fill": "#D9D9D9"}, "data": {"values": [{"label": "Rangitopuni"}]}, "mark": {"type": "text", "fontSize": 11.7, "color": "#1A1A1A"}, "encoding": {"text": {"field": "label"}}},
                    {
                      "bounds": "flush",
                      "spacing": 8,
                      "vconcat": [
                        {
                          "width": 698, "height": 193,
                          "data": {"name": "Rangitopuni_CLAR"},
                          "transform": [{"joinaggregate": [{"op": "count", "as": "n"}], "groupby": ["year"]}, {"calculate": "datum.n == 1 ? 'Single' : datum.type", "as": "slot"}],
                          "layer": [
                            {"data": {"values": [{"minor": -0.25}, {"minor": -0.15}, {"minor": -0.05}, {"minor": 0.05}, {"minor": 0.15}, {"minor": 0.25}]}, "mark": {"type": "rule", "color": "#EBEBEB", "strokeWidth": 0.6},
                             "encoding": {"y": {"field": "minor", "type": "quantitative", "scale": {"domain": [-0.303, 0.35], "nice": false, "zero": false}, "axis": {"title": null, "labels": false, "ticks": false, "values": [-0.3, -0.2, -0.1, 0, 0.1, 0.2, 0.3], "gridWidth": 1.1}}}},
                            {"encoding": {
                               "x": {"field": "year", "type": "ordinal", "scale": {"domain": ["1994","1995","1996","1997","1998","1999","2000","2001","2002","2003","2004","2005","2006","2007","2008","2009","2010","2011","2012","2013","2014","2015","2016","2017","2018","2019","2020"], "paddingInner": 0.626, "paddingOuter": 0.413},
                                     "axis": {"title": null, "labels": false, "ticks": false, "grid": true, "gridWidth": 1.1, "bandPosition": 0.5}},
                               "xOffset": {"field": "slot", "type": "nominal", "scale": {"domain": ["Adjusted", "Single", "Raw"], "paddingInner": 0, "paddingOuter": 0}},
                               "color": {"field": "type", "type": "nominal", "legend": null}},
                             "layer": [
                               {"mark": {"type": "rule", "strokeWidth": 1.1}, "encoding": {"y": {"field": "lower", "type": "quantitative", "scale": {"domain": [-0.303, 0.35], "nice": false, "zero": false}, "axis": {"title": null, "labels": false, "ticks": false, "values": [-0.3, -0.2, -0.1, 0, 0.1, 0.2, 0.3], "gridWidth": 1.1}}, "y2": {"field": "upper"}}},
                               {"mark": {"type": "tick", "size": 4, "thickness": 1.1}, "encoding": {"y": {"field": "lower", "type": "quantitative", "scale": {"domain": [-0.303, 0.35], "nice": false, "zero": false}, "axis": {"title": null, "labels": false, "ticks": false, "values": [-0.3, -0.2, -0.1, 0, 0.1, 0.2, 0.3], "gridWidth": 1.1}}}},
                               {"mark": {"type": "tick", "size": 4, "thickness": 1.1}, "encoding": {"y": {"field": "upper", "type": "quantitative", "scale": {"domain": [-0.303, 0.35], "nice": false, "zero": false}, "axis": {"title": null, "labels": false, "ticks": false, "values": [-0.3, -0.2, -0.1, 0, 0.1, 0.2, 0.3], "gridWidth": 1.1}}}},
                               {"mark": {"type": "point", "filled": true, "size": 30, "opacity": 1, "strokeWidth": 0}, "encoding": {"y": {"field": "slope", "type": "quantitative", "scale": {"domain": [-0.303, 0.35], "nice": false, "zero": false}, "axis": {"title": null, "labels": false, "ticks": false, "values": [-0.3, -0.2, -0.1, 0, 0.1, 0.2, 0.3], "gridWidth": 1.1}}}}
                             ]},
                            {"data": {"values": [{}]}, "mark": {"type": "rule", "color": "#FF0000", "strokeDash": [4, 3], "strokeWidth": 1.1},
                             "encoding": {"y": {"datum": 0, "type": "quantitative", "scale": {"domain": [-0.303, 0.35], "nice": false, "zero": false}, "axis": {"title": null, "labels": false, "ticks": false, "values": [-0.3, -0.2, -0.1, 0, 0.1, 0.2, 0.3], "gridWidth": 1.1}}}}
                          ]
                        },
                        {
                          "width": 698, "height": 193,
                          "data": {"name": "Rangitopuni_DRP"},
                          "transform": [{"joinaggregate": [{"op": "count", "as": "n"}], "groupby": ["year"]}, {"calculate": "datum.n == 1 ? 'Single' : datum.type", "as": "slot"}],
                          "layer": [
                            {"data": {"values": [{"minor": -0.003}, {"minor": -0.001}, {"minor": 0.001}, {"minor": 0.003}]}, "mark": {"type": "rule", "color": "#EBEBEB", "strokeWidth": 0.6},
                             "encoding": {"y": {"field": "minor", "type": "quantitative", "scale": {"domain": [-0.0035, 0.00411], "nice": false, "zero": false}, "axis": {"title": null, "labels": false, "ticks": false, "values": [-0.002, 0, 0.002, 0.004], "gridWidth": 1.1}}}},
                            {"encoding": {
                               "x": {"field": "year", "type": "ordinal", "scale": {"domain": ["1994","1995","1996","1997","1998","1999","2000","2001","2002","2003","2004","2005","2006","2007","2008","2009","2010","2011","2012","2013","2014","2015","2016","2017","2018","2019","2020"], "paddingInner": 0.626, "paddingOuter": 0.413},
                                     "axis": {"title": null, "labels": false, "ticks": false, "grid": true, "gridWidth": 1.1, "bandPosition": 0.5}},
                               "xOffset": {"field": "slot", "type": "nominal", "scale": {"domain": ["Adjusted", "Single", "Raw"], "paddingInner": 0, "paddingOuter": 0}},
                               "color": {"field": "type", "type": "nominal", "legend": null}},
                             "layer": [
                               {"mark": {"type": "rule", "strokeWidth": 1.1}, "encoding": {"y": {"field": "lower", "type": "quantitative", "scale": {"domain": [-0.0035, 0.00411], "nice": false, "zero": false}, "axis": {"title": null, "labels": false, "ticks": false, "values": [-0.002, 0, 0.002, 0.004], "gridWidth": 1.1}}, "y2": {"field": "upper"}}},
                               {"mark": {"type": "tick", "size": 4, "thickness": 1.1}, "encoding": {"y": {"field": "lower", "type": "quantitative", "scale": {"domain": [-0.0035, 0.00411], "nice": false, "zero": false}, "axis": {"title": null, "labels": false, "ticks": false, "values": [-0.002, 0, 0.002, 0.004], "gridWidth": 1.1}}}},
                               {"mark": {"type": "tick", "size": 4, "thickness": 1.1}, "encoding": {"y": {"field": "upper", "type": "quantitative", "scale": {"domain": [-0.0035, 0.00411], "nice": false, "zero": false}, "axis": {"title": null, "labels": false, "ticks": false, "values": [-0.002, 0, 0.002, 0.004], "gridWidth": 1.1}}}},
                               {"mark": {"type": "point", "filled": true, "size": 30, "opacity": 1, "strokeWidth": 0}, "encoding": {"y": {"field": "slope", "type": "quantitative", "scale": {"domain": [-0.0035, 0.00411], "nice": false, "zero": false}, "axis": {"title": null, "labels": false, "ticks": false, "values": [-0.002, 0, 0.002, 0.004], "gridWidth": 1.1}}}}
                             ]},
                            {"data": {"values": [{}]}, "mark": {"type": "rule", "color": "#FF0000", "strokeDash": [4, 3], "strokeWidth": 1.1},
                             "encoding": {"y": {"datum": 0, "type": "quantitative", "scale": {"domain": [-0.0035, 0.00411], "nice": false, "zero": false}, "axis": {"title": null, "labels": false, "ticks": false, "values": [-0.002, 0, 0.002, 0.004], "gridWidth": 1.1}}}}
                          ]
                        },
                        {
                          "width": 698, "height": 193,
                          "data": {"name": "Rangitopuni_NH4N"},
                          "transform": [{"joinaggregate": [{"op": "count", "as": "n"}], "groupby": ["year"]}, {"calculate": "datum.n == 1 ? 'Single' : datum.type", "as": "slot"}],
                          "layer": [
                            {"data": {"values": [{"minor": -0.00375}, {"minor": -0.00125}, {"minor": 0.00125}, {"minor": 0.00375}]}, "mark": {"type": "rule", "color": "#EBEBEB", "strokeWidth": 0.6},
                             "encoding": {"y": {"field": "minor", "type": "quantitative", "scale": {"domain": [-0.00503, 0.00545], "nice": false, "zero": false}, "axis": {"title": null, "labels": false, "ticks": false, "values": [-0.005, -0.0025, 0, 0.0025, 0.005], "gridWidth": 1.1}}}},
                            {"encoding": {
                               "x": {"field": "year", "type": "ordinal", "scale": {"domain": ["1994","1995","1996","1997","1998","1999","2000","2001","2002","2003","2004","2005","2006","2007","2008","2009","2010","2011","2012","2013","2014","2015","2016","2017","2018","2019","2020"], "paddingInner": 0.626, "paddingOuter": 0.413},
                                     "axis": {"title": null, "labels": false, "ticks": false, "grid": true, "gridWidth": 1.1, "bandPosition": 0.5}},
                               "xOffset": {"field": "slot", "type": "nominal", "scale": {"domain": ["Adjusted", "Single", "Raw"], "paddingInner": 0, "paddingOuter": 0}},
                               "color": {"field": "type", "type": "nominal", "legend": null}},
                             "layer": [
                               {"mark": {"type": "rule", "strokeWidth": 1.1}, "encoding": {"y": {"field": "lower", "type": "quantitative", "scale": {"domain": [-0.00503, 0.00545], "nice": false, "zero": false}, "axis": {"title": null, "labels": false, "ticks": false, "values": [-0.005, -0.0025, 0, 0.0025, 0.005], "gridWidth": 1.1}}, "y2": {"field": "upper"}}},
                               {"mark": {"type": "tick", "size": 4, "thickness": 1.1}, "encoding": {"y": {"field": "lower", "type": "quantitative", "scale": {"domain": [-0.00503, 0.00545], "nice": false, "zero": false}, "axis": {"title": null, "labels": false, "ticks": false, "values": [-0.005, -0.0025, 0, 0.0025, 0.005], "gridWidth": 1.1}}}},
                               {"mark": {"type": "tick", "size": 4, "thickness": 1.1}, "encoding": {"y": {"field": "upper", "type": "quantitative", "scale": {"domain": [-0.00503, 0.00545], "nice": false, "zero": false}, "axis": {"title": null, "labels": false, "ticks": false, "values": [-0.005, -0.0025, 0, 0.0025, 0.005], "gridWidth": 1.1}}}},
                               {"mark": {"type": "point", "filled": true, "size": 30, "opacity": 1, "strokeWidth": 0}, "encoding": {"y": {"field": "slope", "type": "quantitative", "scale": {"domain": [-0.00503, 0.00545], "nice": false, "zero": false}, "axis": {"title": null, "labels": false, "ticks": false, "values": [-0.005, -0.0025, 0, 0.0025, 0.005], "gridWidth": 1.1}}}}
                             ]},
                            {"data": {"values": [{}]}, "mark": {"type": "rule", "color": "#FF0000", "strokeDash": [4, 3], "strokeWidth": 1.1},
                             "encoding": {"y": {"datum": 0, "type": "quantitative", "scale": {"domain": [-0.00503, 0.00545], "nice": false, "zero": false}, "axis": {"title": null, "labels": false, "ticks": false, "values": [-0.005, -0.0025, 0, 0.0025, 0.005], "gridWidth": 1.1}}}}
                          ]
                        },
                        {
                          "width": 698, "height": 193,
                          "data": {"name": "Rangitopuni_NNN"},
                          "transform": [{"joinaggregate": [{"op": "count", "as": "n"}], "groupby": ["year"]}, {"calculate": "datum.n == 1 ? 'Single' : datum.type", "as": "slot"}],
                          "layer": [
                            {"data": {"values": [{"minor": -0.06}, {"minor": -0.02}, {"minor": 0.02}, {"minor": 0.06}]}, "mark": {"type": "rule", "color": "#EBEBEB", "strokeWidth": 0.6},
                             "encoding": {"y": {"field": "minor", "type": "quantitative", "scale": {"domain": [-0.0896, 0.0708], "nice": false, "zero": false}, "axis": {"title": null, "labels": false, "ticks": false, "values": [-0.08, -0.04, 0, 0.04], "gridWidth": 1.1}}}},
                            {"encoding": {
                               "x": {"field": "year", "type": "ordinal", "scale": {"domain": ["1994","1995","1996","1997","1998","1999","2000","2001","2002","2003","2004","2005","2006","2007","2008","2009","2010","2011","2012","2013","2014","2015","2016","2017","2018","2019","2020"], "paddingInner": 0.626, "paddingOuter": 0.413},
                                     "axis": {"title": null, "labelAngle": 270, "grid": true, "gridWidth": 1.1, "bandPosition": 0.5}},
                               "xOffset": {"field": "slot", "type": "nominal", "scale": {"domain": ["Adjusted", "Single", "Raw"], "paddingInner": 0, "paddingOuter": 0}},
                               "color": {"field": "type", "type": "nominal", "legend": null}},
                             "layer": [
                               {"mark": {"type": "rule", "strokeWidth": 1.1}, "encoding": {"y": {"field": "lower", "type": "quantitative", "scale": {"domain": [-0.0896, 0.0708], "nice": false, "zero": false}, "axis": {"title": null, "labels": false, "ticks": false, "values": [-0.08, -0.04, 0, 0.04], "gridWidth": 1.1}}, "y2": {"field": "upper"}}},
                               {"mark": {"type": "tick", "size": 4, "thickness": 1.1}, "encoding": {"y": {"field": "lower", "type": "quantitative", "scale": {"domain": [-0.0896, 0.0708], "nice": false, "zero": false}, "axis": {"title": null, "labels": false, "ticks": false, "values": [-0.08, -0.04, 0, 0.04], "gridWidth": 1.1}}}},
                               {"mark": {"type": "tick", "size": 4, "thickness": 1.1}, "encoding": {"y": {"field": "upper", "type": "quantitative", "scale": {"domain": [-0.0896, 0.0708], "nice": false, "zero": false}, "axis": {"title": null, "labels": false, "ticks": false, "values": [-0.08, -0.04, 0, 0.04], "gridWidth": 1.1}}}},
                               {"mark": {"type": "point", "filled": true, "size": 30, "opacity": 1, "strokeWidth": 0}, "encoding": {"y": {"field": "slope", "type": "quantitative", "scale": {"domain": [-0.0896, 0.0708], "nice": false, "zero": false}, "axis": {"title": null, "labels": false, "ticks": false, "values": [-0.08, -0.04, 0, 0.04], "gridWidth": 1.1}}}}
                             ]},
                            {"data": {"values": [{}]}, "mark": {"type": "rule", "color": "#FF0000", "strokeDash": [4, 3], "strokeWidth": 1.1},
                             "encoding": {"y": {"datum": 0, "type": "quantitative", "scale": {"domain": [-0.0896, 0.0708], "nice": false, "zero": false}, "axis": {"title": null, "labels": false, "ticks": false, "values": [-0.08, -0.04, 0, 0.04], "gridWidth": 1.1}}}}
                          ]
                        }
                      ]
                    }
                  ]
                },
                {
                  "bounds": "flush",
                  "spacing": 8,
                  "vconcat": [
                    {"width": 17, "height": 15, "view": {"stroke": null}, "data": {"values": [{"label": ""}]}, "mark": {"type": "text"}, "encoding": {"text": {"field": "label"}}},
                    {"width": 17, "height": 193, "view": {"fill": "#D9D9D9"}, "data": {"values": [{"label": "CLAR"}]}, "mark": {"type": "text", "angle": 90, "fontSize": 11.7, "color": "#1A1A1A"}, "encoding": {"text": {"field": "label"}}},
                    {"width": 17, "height": 193, "view": {"fill": "#D9D9D9"}, "data": {"values": [{"label": "DRP"}]}, "mark": {"type": "text", "angle": 90, "fontSize": 11.7, "color": "#1A1A1A"}, "encoding": {"text": {"field": "label"}}},
                    {"width": 17, "height": 193, "view": {"fill": "#D9D9D9"}, "data": {"values": [{"label": "NH4N"}]}, "mark": {"type": "text", "angle": 90, "fontSize": 11.7, "color": "#1A1A1A"}, "encoding": {"text": {"field": "label"}}},
                    {"width": 17, "height": 193, "view": {"fill": "#D9D9D9"}, "data": {"values": [{"label": "NNN"}]}, "mark": {"type": "text", "angle": 90, "fontSize": 11.7, "color": "#1A1A1A"}, "encoding": {"text": {"field": "label"}}}
                  ]
                }
              ]
            }
          ]
        },
        {
          "width": 1404, "height": 20,
          "view": {"stroke": null},
          "data": {"values": [{"label": "End year for rolling 5-year trends"}]},
          "mark": {"type": "text", "fontSize": 14.7, "color": "#000000"},
          "encoding": {"text": {"field": "label"}}
        }
      ]
    }
  ],
  "spacing": 2,
  "config": {
    "font": "Liberation Sans",
    "view": {"stroke": "#333333", "strokeWidth": 1},
    "axis": {"domain": false, "labelFont": "Liberation Sans", "labelFontSize": 11.7, "labelColor": "#4D4D4D", "tickColor": "#333333", "tickSize": 3.7, "tickWidth": 1, "gridColor": "#EBEBEB", "labelPadding": 2},
    "range": {"category": ["#F8766D", "#00BFC4"]},
    "text": {"font": "Liberation Sans"},
    "legend": {
      "titleFont": "Liberation Sans", "titleFontSize": 14.7, "titleFontWeight": "normal", "titleColor": "#000000", "titlePadding": 13, "titleOrient": "left",
      "labelFont": "Liberation Sans", "labelFontSize": 11.7, "labelColor": "#000000", "labelOffset": 10,
      "symbolType": "M-1,0H1M0.43,0A0.43,0.43,0,1,1,-0.43,0A0.43,0.43,0,1,1,0.43,0Z",
      "symbolSize": 196, "symbolStrokeWidth": 1.1, "columnPadding": 10
    }
  }
}
